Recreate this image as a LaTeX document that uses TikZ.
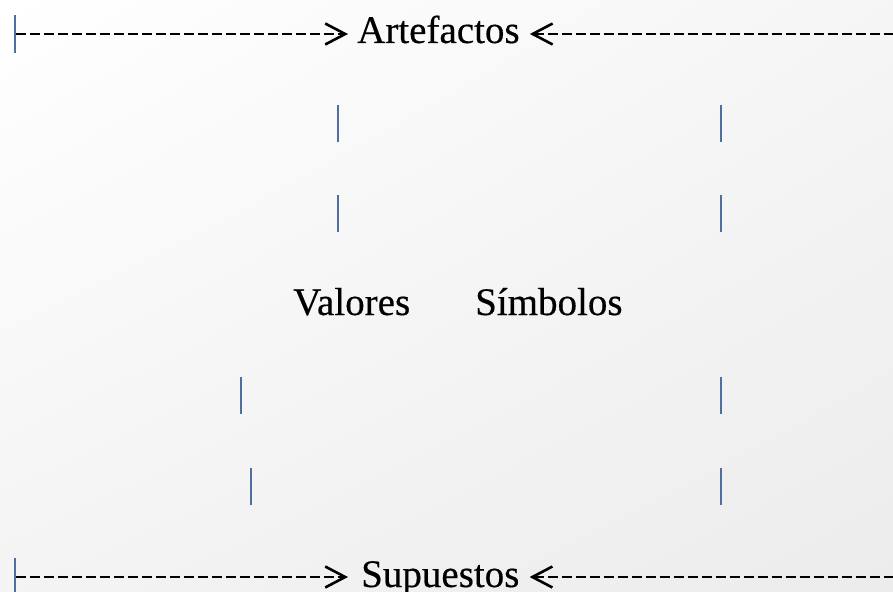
\documentclass[tikz,border=0pt]{standalone}
\usepackage{fontspec}
\setmainfont{Liberation Serif}[FakeBold=0.4]
\usetikzlibrary{arrows.meta,calc,shadings}
\definecolor{barcolor}{RGB}{80,110,160}
\definecolor{fondo}{RGB}{236,236,236}

\begin{document}
\begin{tikzpicture}[x=1pt,y=-1pt,
  etiqueta/.style={inner sep=0pt,font=\fontsize{39}{47}\selectfont},
  trazos/.style={line width=2.8pt,dash pattern=on 10.5pt off 3.5pt},
  punta/.tip={Straight Barb[line width=2.6pt,length=20pt,width=21pt]},
  barra/.tip={Bar[width=38pt,line width=2.4pt,color=barcolor]},
  palo/.style={line width=2.6pt,barcolor}]
\shade[upper left=white,upper right=fondo!50,lower left=fondo!60,lower right=fondo]
  (0,0) rectangle (893,591);
\useasboundingbox (0,0) rectangle (893,591);

\node[etiqueta,anchor=base west] (artefactos) at (357,43) {Artefactos};
\node[etiqueta,anchor=base west] (supuestos) at (361,587) {Supuestos};
\node[etiqueta,anchor=base west] (valores) at (293,315) {Valores};
\node[etiqueta,anchor=base west] (simbolos) at (475,315) {Símbolos};

\coordinate (inicioA) at (14,34);
\coordinate (finA) at (893,34);
\coordinate (inicioS) at (14,577);
\coordinate (finS) at (893,577);

\draw[trazos,barra-punta] (inicioA) -- ($(artefactos.west |- inicioA)+(-9,0)$);
\draw[trazos,punta-] ($(artefactos.east |- inicioA)+(10,0)$) -- (finA);
\draw[trazos,barra-punta] (inicioS) -- ($(supuestos.west |- inicioS)+(-13,0)$);
\draw[trazos,punta-] ($(supuestos.east |- inicioS)+(10,0)$) -- (finS);

% palitos sueltos
\foreach \px/\py in {338/105,338/195,721/105,721/195,241/377,251/468,721/377,721/468}
  \draw[palo] (\px,\py) -- ++(0,37);
\end{tikzpicture}
\end{document}
